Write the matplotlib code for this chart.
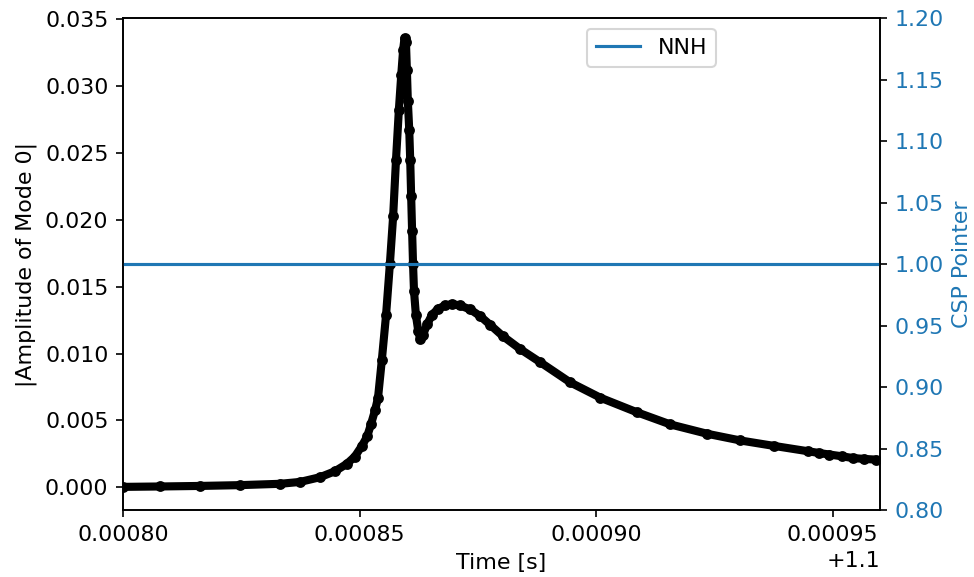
import numpy as np
import matplotlib
matplotlib.use("Agg")
import matplotlib.pyplot as plt
from matplotlib.ticker import MultipleLocator

plt.rcParams["font.size"] = 10.6

# time offsets in microseconds after 1.1 s, and |amplitude of mode 0|
time_us = [800.0, 807.8, 816.2, 824.7, 833.2, 837.4, 841.6, 844.8, 847.3, 849.0,
           850.5, 851.6, 852.4, 853.3, 853.9, 854.7, 855.6, 856.4, 857.1, 857.7,
           858.3, 858.8, 859.2, 859.5, 859.8, 860.0, 860.2, 860.5, 860.7, 860.9,
           861.1, 861.3, 861.5, 861.9, 862.4, 862.8, 863.4, 864.3, 865.3, 866.6,
           868.1, 869.6, 871.2, 873.4, 875.5, 877.6, 880.3, 883.9, 888.2, 894.5,
           900.9, 908.7, 915.7, 923.5, 930.5, 937.5, 944.7, 947.0, 949.3, 951.9,
           954.2, 956.7, 959.1]
amplitude = [0.00003, 0.00006, 0.00010, 0.00016, 0.00026, 0.00040, 0.00075, 0.00120, 0.00175, 0.00230,
             0.00310, 0.00380, 0.00470, 0.00580, 0.00670, 0.00950, 0.01290, 0.01668, 0.02030, 0.02450,
             0.02820, 0.03080, 0.03270, 0.03360, 0.03330, 0.03120, 0.02890, 0.02670, 0.02450, 0.02180,
             0.01920, 0.01670, 0.01470, 0.01290, 0.01170, 0.01110, 0.01140, 0.01220, 0.01290, 0.01335,
             0.01360, 0.01370, 0.01360, 0.01330, 0.01280, 0.01215, 0.01130, 0.01035, 0.00935, 0.00785,
             0.00670, 0.00560, 0.00470, 0.00400, 0.00350, 0.00310, 0.00270, 0.00257, 0.00245, 0.00232,
             0.00219, 0.00212, 0.00207]

csp_time_us = [800.0, 960.0]
csp_pointer = [1.0, 1.0]

t = 1.1 + np.array(time_us) * 1e-6
t_csp = 1.1 + np.array(csp_time_us) * 1e-6

fig = plt.figure(figsize=(974 / 150, 577 / 150), dpi=150)
ax = fig.add_axes([0.1263, 0.1161, 0.7772, 0.8527])
ax.plot(t, amplitude, "-o", color="black", markersize=4.2, linewidth=3.9,
        solid_joinstyle="round", solid_capstyle="round")
ax.set_xlim(t_csp[0], t_csp[-1])
ax.set_ylim(-0.0017, 0.0351)
ax.xaxis.set_major_locator(MultipleLocator(0.00005))
ax.set_xlabel("Time [s]")
ax.set_ylabel("|Amplitude of Mode 0|")

ax2 = ax.twinx()
ax2.plot(t_csp, csp_pointer, color="tab:blue", label="NNH")
ax2.set_ylim(0.8, 1.2)
ax2.set_ylabel("CSP Pointer", color="tab:blue")
ax2.tick_params(axis="y", labelcolor="tab:blue")
ax2.legend(loc="upper center", bbox_to_anchor=(0.698, 1.0))

fig.savefig("out.png", dpi=150)
